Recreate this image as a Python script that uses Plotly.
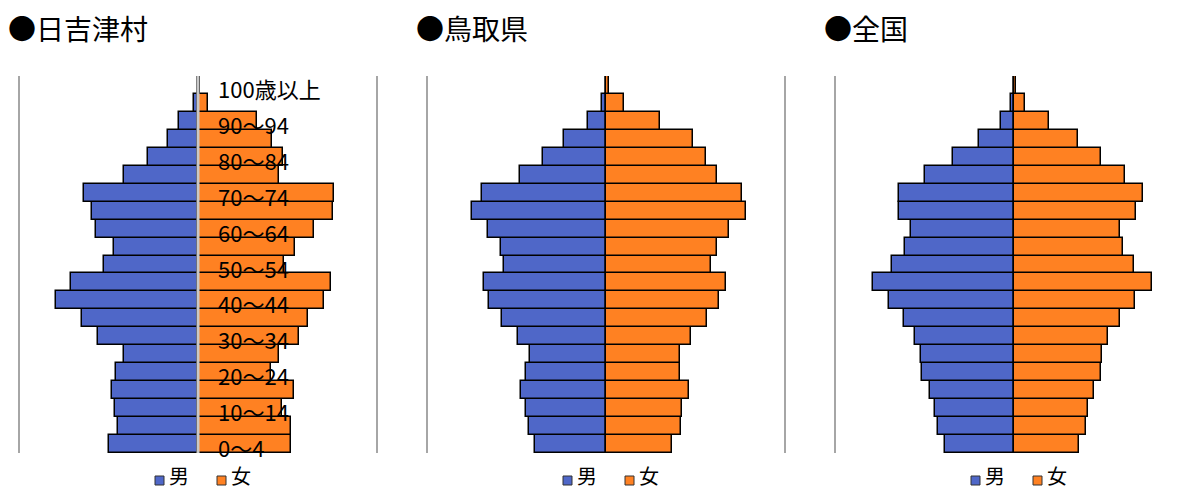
import plotly.graph_objects as go

# Age groups (bottom to top)
ages = ["0〜4", "5〜9", "10〜14", "15〜19", "20〜24", "25〜29", "30〜34", "35〜39",
        "40〜44", "45〜49", "50〜54", "55〜59", "60〜64", "65〜69", "70〜74", "75〜79",
        "80〜84", "85〜89", "90〜94", "95〜99", "100歳以上"]

# 日吉津村 (persons)
hiezu_male = [100, 90, 93, 97, 92, 83, 112, 130, 159, 143, 106, 94, 115, 119, 128, 83, 56, 34, 21, 4, 0]
hiezu_female = [104, 104, 94, 108, 82, 91, 113, 124, 142, 149, 97, 109, 130, 152, 153, 91, 96, 83, 66, 11, 2]

# 鳥取県 (thousand persons)
tottori_male = [11.97, 13.03, 13.53, 14.38, 13.43, 12.81, 14.88, 17.58, 19.67, 20.61, 17.24,
                17.65, 19.94, 22.58, 20.85, 14.44, 10.57, 7.13, 2.98, 0.62, 0.03]
tottori_female = [11.12, 12.59, 12.86, 13.94, 12.47, 12.52, 14.33, 17.02, 18.99, 20.17, 17.65,
                  18.76, 20.73, 23.54, 22.92, 18.71, 16.85, 14.61, 9.10, 3.03, 0.45]

# 全国 (million persons)
japan_male = [2.32, 2.55, 2.65, 2.84, 3.10, 3.15, 3.35, 3.71, 4.22, 4.76, 4.12,
              3.66, 3.48, 3.89, 3.89, 3.00, 2.05, 1.17, 0.43, 0.09, 0.01]
japan_female = [2.20, 2.42, 2.50, 2.69, 2.94, 2.96, 3.18, 3.57, 4.09, 4.64, 4.04,
                3.67, 3.56, 4.12, 4.35, 3.74, 2.92, 2.17, 1.18, 0.37, 0.07]

titles = ["●日吉津村", "●鳥取県", "●全国"]
label_ages = ["0〜4", "10〜14", "20〜24", "30〜34", "40〜44", "50〜54",
              "60〜64", "70〜74", "80〜84", "90〜94", "100歳以上"]

W, H = 1184, 492
MALE_C = "#4f67c8"
FEMALE_C = "#ff8122"
FONT = "Noto Sans CJK JP"

panels = [
    dict(male=hiezu_male, female=hiezu_female, dom=(20, 376), rng=(-200, 200), center=198, mirror=True),
    dict(male=tottori_male, female=tottori_female, dom=(428, 784), rng=(-30, 30), center=606, mirror=True),
    dict(male=japan_male, female=japan_female, dom=(836, 1184), rng=(-6, 6 * 170 / 178), center=1014, mirror=False),
]

fig = go.Figure()
ydom = [1 - 453 / H, 1 - 76 / H]
shapes = []
annotations = []

for i, p in enumerate(panels):
    n = "" if i == 0 else str(i + 1)
    xa, ya = "x" + n, "y" + n
    fig.add_trace(go.Bar(y=ages, x=[-v for v in p["male"]], orientation="h", name="男",
                         marker=dict(color=MALE_C, line=dict(color="black", width=1.5)),
                         xaxis=xa, yaxis=ya, showlegend=False, base=0))
    fig.add_trace(go.Bar(y=ages, x=p["female"], orientation="h", name="女",
                         marker=dict(color=FEMALE_C, line=dict(color="black", width=1.5)),
                         xaxis=xa, yaxis=ya, showlegend=False, base=0))
    fig.layout["xaxis" + n] = dict(domain=[p["dom"][0] / W, min(p["dom"][1] / W, 1.0)],
                                   range=list(p["rng"]), showgrid=False, zeroline=False,
                                   showticklabels=False, ticks="", anchor=ya, fixedrange=True)
    fig.layout["yaxis" + n] = dict(domain=ydom, categoryorder="array", categoryarray=ages,
                                   range=[-0.5, 20.5], showgrid=False, zeroline=False,
                                   showticklabels=False, ticks="", showline=True,
                                   mirror=p["mirror"], linecolor="#a6a6a6", linewidth=2,
                                   anchor=xa, fixedrange=True)
    # title
    annotations.append(dict(text=titles[i], xref="paper", yref="paper",
                            x=(p["dom"][0] - 14) / W, y=1 - 28 / H, xanchor="left", yanchor="middle",
                            showarrow=False, font=dict(family=FONT, size=28, color="black")))
    # legend
    c = p["center"]
    for dx, col, txt in [(-43, MALE_C, "男"), (19, FEMALE_C, "女")]:
        shapes.append(dict(type="rect", xref="paper", yref="paper",
                           x0=(c + dx) / W, x1=(c + dx + 9) / W, y0=1 - 485 / H, y1=1 - 476 / H,
                           fillcolor=col, line=dict(color="#333333", width=1)))
        annotations.append(dict(text=txt, xref="paper", yref="paper", x=(c + dx + 12) / W,
                                y=0, xanchor="left", yanchor="bottom", showarrow=False,
                                font=dict(family=FONT, size=20, color="black")))

# center gray line on first panel
shapes.append(dict(type="line", xref="x", yref="y domain", x0=0, x1=0, y0=0, y1=1,
                   line=dict(color="#c8c8c8", width=3), layer="above"))

# age labels on first panel
for a in label_ages:
    annotations.append(dict(text=a, xref="x", yref="y", x=0, y=a, xshift=18, yshift=-3,
                            xanchor="left", yanchor="middle", showarrow=False,
                            font=dict(family=FONT, size=22, color="black")))

fig.update_layout(width=W, height=H, margin=dict(l=0, r=0, t=0, b=0),
                  paper_bgcolor="white", plot_bgcolor="white",
                  barmode="overlay", bargap=0, shapes=shapes, annotations=annotations,
                  font=dict(family=FONT))

fig.write_html("out.html", config={"displayModeBar": False},
               post_script="document.body.style.margin='0';document.body.style.overflow='hidden';")
